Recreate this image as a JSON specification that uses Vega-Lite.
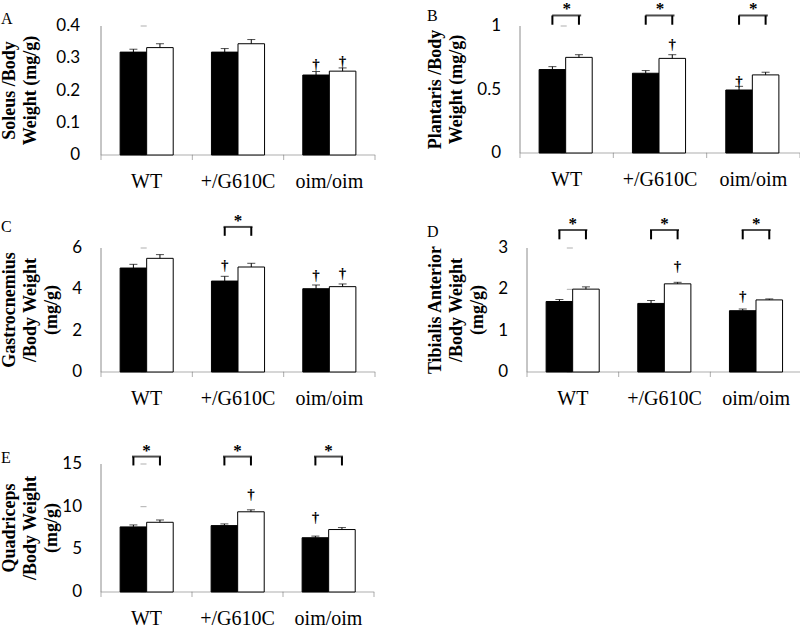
{
  "$schema": "https://vega.github.io/schema/vega-lite/v6.json",
  "background": "white",
  "padding": {"left": 1, "top": 0, "right": 0, "bottom": 0},
  "datasets": {
    "bars": [
      {"panel": "A", "genotype": "WT", "group": "Series1", "value": 0.319, "hi": 0.328},
      {"panel": "A", "genotype": "WT", "group": "Series2", "value": 0.333, "hi": 0.345},
      {"panel": "A", "genotype": "+/G610C", "group": "Series1", "value": 0.319, "hi": 0.330},
      {"panel": "A", "genotype": "+/G610C", "group": "Series2", "value": 0.345, "hi": 0.358},
      {"panel": "A", "genotype": "oim/oim", "group": "Series1", "value": 0.248, "hi": 0.259},
      {"panel": "A", "genotype": "oim/oim", "group": "Series2", "value": 0.260, "hi": 0.270},
      {"panel": "B", "genotype": "WT", "group": "Series1", "value": 0.657, "hi": 0.680},
      {"panel": "B", "genotype": "WT", "group": "Series2", "value": 0.753, "hi": 0.774},
      {"panel": "B", "genotype": "+/G610C", "group": "Series1", "value": 0.628, "hi": 0.649},
      {"panel": "B", "genotype": "+/G610C", "group": "Series2", "value": 0.745, "hi": 0.774},
      {"panel": "B", "genotype": "oim/oim", "group": "Series1", "value": 0.496, "hi": 0.525},
      {"panel": "B", "genotype": "oim/oim", "group": "Series2", "value": 0.615, "hi": 0.636},
      {"panel": "C", "genotype": "WT", "group": "Series1", "value": 5.03, "hi": 5.21},
      {"panel": "C", "genotype": "WT", "group": "Series2", "value": 5.50, "hi": 5.68},
      {"panel": "C", "genotype": "+/G610C", "group": "Series1", "value": 4.40, "hi": 4.63},
      {"panel": "C", "genotype": "+/G610C", "group": "Series2", "value": 5.08, "hi": 5.26},
      {"panel": "C", "genotype": "oim/oim", "group": "Series1", "value": 4.03, "hi": 4.21},
      {"panel": "C", "genotype": "oim/oim", "group": "Series2", "value": 4.13, "hi": 4.26},
      {"panel": "D", "genotype": "WT", "group": "Series1", "value": 1.706, "hi": 1.754},
      {"panel": "D", "genotype": "WT", "group": "Series2", "value": 2.005, "hi": 2.06},
      {"panel": "D", "genotype": "+/G610C", "group": "Series1", "value": 1.659, "hi": 1.73},
      {"panel": "D", "genotype": "+/G610C", "group": "Series2", "value": 2.133, "hi": 2.17},
      {"panel": "D", "genotype": "oim/oim", "group": "Series1", "value": 1.483, "hi": 1.524},
      {"panel": "D", "genotype": "oim/oim", "group": "Series2", "value": 1.744, "hi": 1.768},
      {"panel": "E", "genotype": "WT", "group": "Series1", "value": 7.63, "hi": 7.86},
      {"panel": "E", "genotype": "WT", "group": "Series2", "value": 8.17, "hi": 8.44},
      {"panel": "E", "genotype": "+/G610C", "group": "Series1", "value": 7.78, "hi": 7.98},
      {"panel": "E", "genotype": "+/G610C", "group": "Series2", "value": 9.40, "hi": 9.63},
      {"panel": "E", "genotype": "oim/oim", "group": "Series1", "value": 6.36, "hi": 6.55},
      {"panel": "E", "genotype": "oim/oim", "group": "Series2", "value": 7.32, "hi": 7.55}
    ],
    "yticks": [
      {"panel": "A", "v": 0}, {"panel": "A", "v": 0.1}, {"panel": "A", "v": 0.2}, {"panel": "A", "v": 0.3}, {"panel": "A", "v": 0.4},
      {"panel": "B", "v": 0}, {"panel": "B", "v": 0.5}, {"panel": "B", "v": 1},
      {"panel": "C", "v": 0}, {"panel": "C", "v": 2}, {"panel": "C", "v": 4}, {"panel": "C", "v": 6},
      {"panel": "D", "v": 0}, {"panel": "D", "v": 1}, {"panel": "D", "v": 2}, {"panel": "D", "v": 3},
      {"panel": "E", "v": 0}, {"panel": "E", "v": 5}, {"panel": "E", "v": 10}, {"panel": "E", "v": 15}
    ],
    "brackets": [
      {"panel": "B", "genotype": "WT", "group": "Series1", "top": 1.083, "bottom": 1.01},
      {"panel": "B", "genotype": "WT", "group": "Series2", "top": 1.083, "bottom": 1.01},
      {"panel": "B", "genotype": "+/G610C", "group": "Series1", "top": 1.083, "bottom": 1.01},
      {"panel": "B", "genotype": "+/G610C", "group": "Series2", "top": 1.083, "bottom": 1.01},
      {"panel": "B", "genotype": "oim/oim", "group": "Series1", "top": 1.083, "bottom": 1.01},
      {"panel": "B", "genotype": "oim/oim", "group": "Series2", "top": 1.083, "bottom": 1.01},
      {"panel": "C", "genotype": "+/G610C", "group": "Series1", "top": 7.02, "bottom": 6.59},
      {"panel": "C", "genotype": "+/G610C", "group": "Series2", "top": 7.02, "bottom": 6.59},
      {"panel": "D", "genotype": "WT", "group": "Series1", "top": 3.436, "bottom": 3.21},
      {"panel": "D", "genotype": "WT", "group": "Series2", "top": 3.436, "bottom": 3.21},
      {"panel": "D", "genotype": "+/G610C", "group": "Series1", "top": 3.436, "bottom": 3.21},
      {"panel": "D", "genotype": "+/G610C", "group": "Series2", "top": 3.436, "bottom": 3.21},
      {"panel": "D", "genotype": "oim/oim", "group": "Series1", "top": 3.436, "bottom": 3.21},
      {"panel": "D", "genotype": "oim/oim", "group": "Series2", "top": 3.436, "bottom": 3.21},
      {"panel": "E", "genotype": "WT", "group": "Series1", "top": 15.87, "bottom": 14.83},
      {"panel": "E", "genotype": "WT", "group": "Series2", "top": 15.87, "bottom": 14.83},
      {"panel": "E", "genotype": "+/G610C", "group": "Series1", "top": 15.87, "bottom": 14.83},
      {"panel": "E", "genotype": "+/G610C", "group": "Series2", "top": 15.87, "bottom": 14.83},
      {"panel": "E", "genotype": "oim/oim", "group": "Series1", "top": 15.87, "bottom": 14.83},
      {"panel": "E", "genotype": "oim/oim", "group": "Series2", "top": 15.87, "bottom": 14.83}
    ],
    "daggers": [
      {"panel": "A", "genotype": "oim/oim", "group": "Series1", "y": 0.282},
      {"panel": "A", "genotype": "oim/oim", "group": "Series2", "y": 0.292},
      {"panel": "B", "genotype": "+/G610C", "group": "Series2", "y": 0.856},
      {"panel": "B", "genotype": "oim/oim", "group": "Series1", "y": 0.566},
      {"panel": "C", "genotype": "+/G610C", "group": "Series1", "y": 5.16},
      {"panel": "C", "genotype": "oim/oim", "group": "Series1", "y": 4.67},
      {"panel": "C", "genotype": "oim/oim", "group": "Series2", "y": 4.79},
      {"panel": "D", "genotype": "+/G610C", "group": "Series2", "y": 2.57},
      {"panel": "D", "genotype": "oim/oim", "group": "Series1", "y": 1.85},
      {"panel": "E", "genotype": "+/G610C", "group": "Series2", "y": 11.45},
      {"panel": "E", "genotype": "oim/oim", "group": "Series1", "y": 8.75}
    ]
  },
  "spacing": 19,
  "vconcat": [
    {
      "spacing": 50,
      "hconcat": [
        {
          "width": 274, "height": 129,
          "title": {"text": "A", "offset": -10},
          "layer": [
            {"data": {"name": "bars"}, "transform": [{"filter": "datum.panel === 'A' && datum.group === 'Series1'"}],
             "mark": {"type": "tick", "orient": "horizontal", "size": 91.8, "thickness": 1, "color": "#8c8c8c"},
             "encoding": {
               "x": {"field": "genotype", "type": "nominal", "scale": {"domain": ["WT", "+/G610C", "oim/oim"], "paddingInner": 0, "paddingOuter": 0}, "axis": null},
               "y": {"datum": 0, "type": "quantitative", "scale": {"domain": [0, 0.4], "nice": false}, "axis": null}
             }},
            {"data": {"name": "bars"}, "transform": [{"filter": "datum.panel === 'A' && datum.group === 'Series1'"}],
             "mark": {"type": "tick", "orient": "vertical", "size": 5, "thickness": 1, "color": "#8c8c8c", "yOffset": 2.5},
             "encoding": {
               "x": {"field": "genotype", "type": "nominal", "bandPosition": 0, "axis": null},
               "y": {"datum": 0, "type": "quantitative", "axis": null}
             }},
            {"data": {"name": "bars"}, "transform": [{"filter": "datum.panel === 'A' && datum.group === 'Series1' && datum.genotype === 'oim/oim'"}],
             "mark": {"type": "tick", "orient": "vertical", "size": 5, "thickness": 1, "color": "#8c8c8c", "yOffset": 2.5},
             "encoding": {
               "x": {"field": "genotype", "type": "nominal", "bandPosition": 1, "axis": null},
               "y": {"datum": 0, "type": "quantitative", "axis": null}
             }},
            {"data": {"name": "bars"}, "transform": [{"filter": "datum.panel === 'A' && datum.group === 'Series1'"}],
             "mark": {"type": "text", "font": "Liberation Serif", "fontSize": 20, "baseline": "alphabetic", "align": "center", "dy": 33, "fill": "black"},
             "encoding": {
               "x": {"field": "genotype", "type": "nominal", "axis": null},
               "y": {"datum": 0, "type": "quantitative", "axis": null},
               "text": {"field": "genotype", "type": "nominal"}
             }},
            {"data": {"name": "yticks"}, "transform": [{"filter": "datum.panel === 'A' && datum.v === 0"}],
             "mark": {"type": "rule", "color": "#8c8c8c", "strokeWidth": 1},
             "encoding": {
               "x": {"datum": "WT", "type": "nominal", "bandPosition": 0, "axis": null},
               "y": {"datum": 0, "type": "quantitative", "axis": null},
               "y2": {"datum": 0.4}
             }},
            {"data": {"name": "yticks"}, "transform": [{"filter": "datum.panel === 'A'"}],
             "mark": {"type": "tick", "orient": "horizontal", "size": 6, "thickness": 1, "color": "#8c8c8c", "xOffset": -3},
             "encoding": {
               "x": {"datum": "WT", "type": "nominal", "bandPosition": 0, "axis": null},
               "y": {"field": "v", "type": "quantitative", "axis": null}
             }},
            {"data": {"name": "yticks"}, "transform": [{"filter": "datum.panel === 'A'"}],
             "mark": {"type": "text", "font": "Lato", "fontSize": 17, "align": "right", "baseline": "middle", "dx": -21, "fill": "black"},
             "encoding": {
               "x": {"datum": "WT", "type": "nominal", "bandPosition": 0, "axis": null},
               "y": {"field": "v", "type": "quantitative", "axis": null},
               "text": {"field": "v", "type": "quantitative", "format": "~g"}
             }},
            {"data": {"name": "yticks"}, "transform": [{"filter": "datum.panel === 'A' && datum.v === 0"}],
             "mark": {"type": "text", "text": ["Soleus /Body", "Weight (mg/g)"], "font": "Liberation Serif", "fontWeight": "bold", "fontSize": 18, "lineHeight": 21, "angle": 270, "align": "center", "baseline": "top", "dy": -100, "fill": "black"},
             "encoding": {
               "x": {"datum": "WT", "type": "nominal", "bandPosition": 0, "axis": null},
               "y": {"datum": 0.2, "type": "quantitative", "axis": null}
             }},
            {"data": {"name": "bars"}, "transform": [{"filter": "datum.panel === 'A'"}],
             "mark": {"type": "bar", "stroke": "black", "strokeWidth": 1},
             "encoding": {
               "x": {"field": "genotype", "type": "nominal", "axis": null},
               "xOffset": {"field": "group", "type": "nominal", "scale": {"domain": ["Series1", "Series2"], "paddingInner": 0, "paddingOuter": 0.72}},
               "y": {"field": "value", "type": "quantitative", "axis": null},
               "fill": {"field": "group", "type": "nominal", "scale": {"domain": ["Series1", "Series2"], "range": ["black", "white"]}, "legend": null}
             }},
            {"data": {"name": "bars"}, "transform": [{"filter": "datum.panel === 'A'"}],
             "mark": {"type": "rule", "color": "black", "strokeWidth": 1},
             "encoding": {
               "x": {"field": "genotype", "type": "nominal", "axis": null},
               "xOffset": {"field": "group", "type": "nominal"},
               "y": {"field": "value", "type": "quantitative", "axis": null},
               "y2": {"field": "hi"}
             }},
            {"data": {"name": "bars"}, "transform": [{"filter": "datum.panel === 'A'"}],
             "mark": {"type": "tick", "orient": "horizontal", "color": "black", "size": 8, "thickness": 1},
             "encoding": {
               "x": {"field": "genotype", "type": "nominal", "axis": null},
               "xOffset": {"field": "group", "type": "nominal"},
               "y": {"field": "hi", "type": "quantitative", "axis": null}
             }},
            {"data": {"name": "daggers"}, "transform": [{"filter": "datum.panel === 'A'"}],
             "mark": {"type": "text", "text": "†", "font": "Liberation Serif", "fontSize": 15, "fontWeight": "bold", "baseline": "middle", "fill": "black"},
             "encoding": {
               "x": {"field": "genotype", "type": "nominal", "axis": null},
               "xOffset": {"field": "group", "type": "nominal"},
               "y": {"field": "y", "type": "quantitative", "axis": null}
             }}
          ]
        },
        {
          "width": 280, "height": 127,
          "title": {"text": "B", "offset": -24},
          "layer": [
            {"data": {"name": "bars"}, "transform": [{"filter": "datum.panel === 'B' && datum.group === 'Series1'"}],
             "mark": {"type": "tick", "orient": "horizontal", "size": 93.8, "thickness": 1, "color": "#8c8c8c"},
             "encoding": {
               "x": {"field": "genotype", "type": "nominal", "scale": {"domain": ["WT", "+/G610C", "oim/oim"], "paddingInner": 0, "paddingOuter": 0}, "axis": null},
               "y": {"datum": 0, "type": "quantitative", "scale": {"domain": [0, 1], "nice": false}, "axis": null}
             }},
            {"data": {"name": "bars"}, "transform": [{"filter": "datum.panel === 'B' && datum.group === 'Series1'"}],
             "mark": {"type": "tick", "orient": "vertical", "size": 5, "thickness": 1, "color": "#8c8c8c", "yOffset": 2.5},
             "encoding": {
               "x": {"field": "genotype", "type": "nominal", "bandPosition": 0, "axis": null},
               "y": {"datum": 0, "type": "quantitative", "axis": null}
             }},
            {"data": {"name": "bars"}, "transform": [{"filter": "datum.panel === 'B' && datum.group === 'Series1' && datum.genotype === 'oim/oim'"}],
             "mark": {"type": "tick", "orient": "vertical", "size": 5, "thickness": 1, "color": "#8c8c8c", "yOffset": 2.5},
             "encoding": {
               "x": {"field": "genotype", "type": "nominal", "bandPosition": 1, "axis": null},
               "y": {"datum": 0, "type": "quantitative", "axis": null}
             }},
            {"data": {"name": "bars"}, "transform": [{"filter": "datum.panel === 'B' && datum.group === 'Series1'"}],
             "mark": {"type": "text", "font": "Liberation Serif", "fontSize": 20, "baseline": "alphabetic", "align": "center", "dy": 33, "fill": "black"},
             "encoding": {
               "x": {"field": "genotype", "type": "nominal", "axis": null},
               "y": {"datum": 0, "type": "quantitative", "axis": null},
               "text": {"field": "genotype", "type": "nominal"}
             }},
            {"data": {"name": "yticks"}, "transform": [{"filter": "datum.panel === 'B' && datum.v === 0"}],
             "mark": {"type": "rule", "color": "#8c8c8c", "strokeWidth": 1},
             "encoding": {
               "x": {"datum": "WT", "type": "nominal", "bandPosition": 0, "axis": null},
               "y": {"datum": 0, "type": "quantitative", "axis": null},
               "y2": {"datum": 1}
             }},
            {"data": {"name": "yticks"}, "transform": [{"filter": "datum.panel === 'B'"}],
             "mark": {"type": "tick", "orient": "horizontal", "size": 6, "thickness": 1, "color": "#8c8c8c", "xOffset": -3},
             "encoding": {
               "x": {"datum": "WT", "type": "nominal", "bandPosition": 0, "axis": null},
               "y": {"field": "v", "type": "quantitative", "axis": null}
             }},
            {"data": {"name": "yticks"}, "transform": [{"filter": "datum.panel === 'B'"}],
             "mark": {"type": "text", "font": "Lato", "fontSize": 17, "align": "right", "baseline": "middle", "dx": -19, "fill": "black"},
             "encoding": {
               "x": {"datum": "WT", "type": "nominal", "bandPosition": 0, "axis": null},
               "y": {"field": "v", "type": "quantitative", "axis": null},
               "text": {"field": "v", "type": "quantitative", "format": "~g"}
             }},
            {"data": {"name": "yticks"}, "transform": [{"filter": "datum.panel === 'B' && datum.v === 0"}],
             "mark": {"type": "text", "text": ["Plantaris /Body", "Weight (mg/g)"], "font": "Liberation Serif", "fontWeight": "bold", "fontSize": 18, "lineHeight": 21, "angle": 270, "align": "center", "baseline": "top", "dy": -93, "fill": "black"},
             "encoding": {
               "x": {"datum": "WT", "type": "nominal", "bandPosition": 0, "axis": null},
               "y": {"datum": 0.5, "type": "quantitative", "axis": null}
             }},
            {"data": {"name": "bars"}, "transform": [{"filter": "datum.panel === 'B'"}],
             "mark": {"type": "bar", "stroke": "black", "strokeWidth": 1},
             "encoding": {
               "x": {"field": "genotype", "type": "nominal", "axis": null},
               "xOffset": {"field": "group", "type": "nominal", "scale": {"domain": ["Series1", "Series2"], "paddingInner": 0, "paddingOuter": 0.72}},
               "y": {"field": "value", "type": "quantitative", "axis": null},
               "fill": {"field": "group", "type": "nominal", "scale": {"domain": ["Series1", "Series2"], "range": ["black", "white"]}, "legend": null}
             }},
            {"data": {"name": "bars"}, "transform": [{"filter": "datum.panel === 'B'"}],
             "mark": {"type": "rule", "color": "black", "strokeWidth": 1},
             "encoding": {
               "x": {"field": "genotype", "type": "nominal", "axis": null},
               "xOffset": {"field": "group", "type": "nominal"},
               "y": {"field": "value", "type": "quantitative", "axis": null},
               "y2": {"field": "hi"}
             }},
            {"data": {"name": "bars"}, "transform": [{"filter": "datum.panel === 'B'"}],
             "mark": {"type": "tick", "orient": "horizontal", "color": "black", "size": 8, "thickness": 1},
             "encoding": {
               "x": {"field": "genotype", "type": "nominal", "axis": null},
               "xOffset": {"field": "group", "type": "nominal"},
               "y": {"field": "hi", "type": "quantitative", "axis": null}
             }},
            {"data": {"name": "brackets"}, "transform": [{"filter": "datum.panel === 'B'"}],
             "mark": {"type": "rule", "color": "black", "strokeWidth": 2},
             "encoding": {
               "x": {"field": "genotype", "type": "nominal", "axis": null},
               "xOffset": {"field": "group", "type": "nominal"},
               "y": {"field": "bottom", "type": "quantitative", "axis": null},
               "y2": {"field": "top"}
             }},
            {"data": {"name": "brackets"}, "transform": [{"filter": "datum.panel === 'B' && datum.group === 'Series1'"}],
             "mark": {"type": "tick", "orient": "horizontal", "color": "black", "size": 29, "thickness": 2},
             "encoding": {
               "x": {"field": "genotype", "type": "nominal", "axis": null},
               "y": {"field": "top", "type": "quantitative", "axis": null}
             }},
            {"data": {"name": "brackets"}, "transform": [{"filter": "datum.panel === 'B' && datum.group === 'Series1'"}],
             "mark": {"type": "text", "text": "*", "font": "Liberation Serif", "fontSize": 17, "fontWeight": "bold", "baseline": "alphabetic", "dy": -1, "fill": "black"},
             "encoding": {
               "x": {"field": "genotype", "type": "nominal", "axis": null},
               "y": {"field": "top", "type": "quantitative", "axis": null}
             }},
            {"data": {"name": "daggers"}, "transform": [{"filter": "datum.panel === 'B'"}],
             "mark": {"type": "text", "text": "†", "font": "Liberation Serif", "fontSize": 15, "fontWeight": "bold", "baseline": "middle", "fill": "black"},
             "encoding": {
               "x": {"field": "genotype", "type": "nominal", "axis": null},
               "xOffset": {"field": "group", "type": "nominal"},
               "y": {"field": "y", "type": "quantitative", "axis": null}
             }}
          ]
        }
      ]
    },
    {
      "spacing": 32,
      "vconcat": [
        {
          "spacing": 50,
          "hconcat": [
            {
              "width": 274, "height": 124,
              "title": {"text": "C", "offset": -23},
              "layer": [
                {"data": {"name": "bars"}, "transform": [{"filter": "datum.panel === 'C' && datum.group === 'Series1'"}],
                 "mark": {"type": "tick", "orient": "horizontal", "size": 91.8, "thickness": 1, "color": "#8c8c8c"},
                 "encoding": {
                   "x": {"field": "genotype", "type": "nominal", "scale": {"domain": ["WT", "+/G610C", "oim/oim"], "paddingInner": 0, "paddingOuter": 0}, "axis": null},
                   "y": {"datum": 0, "type": "quantitative", "scale": {"domain": [0, 6], "nice": false}, "axis": null}
                 }},
                {"data": {"name": "bars"}, "transform": [{"filter": "datum.panel === 'C' && datum.group === 'Series1'"}],
                 "mark": {"type": "tick", "orient": "vertical", "size": 5, "thickness": 1, "color": "#8c8c8c", "yOffset": 2.5},
                 "encoding": {
                   "x": {"field": "genotype", "type": "nominal", "bandPosition": 0, "axis": null},
                   "y": {"datum": 0, "type": "quantitative", "axis": null}
                 }},
                {"data": {"name": "bars"}, "transform": [{"filter": "datum.panel === 'C' && datum.group === 'Series1' && datum.genotype === 'oim/oim'"}],
                 "mark": {"type": "tick", "orient": "vertical", "size": 5, "thickness": 1, "color": "#8c8c8c", "yOffset": 2.5},
                 "encoding": {
                   "x": {"field": "genotype", "type": "nominal", "bandPosition": 1, "axis": null},
                   "y": {"datum": 0, "type": "quantitative", "axis": null}
                 }},
                {"data": {"name": "bars"}, "transform": [{"filter": "datum.panel === 'C' && datum.group === 'Series1'"}],
                 "mark": {"type": "text", "font": "Liberation Serif", "fontSize": 20, "baseline": "alphabetic", "align": "center", "dy": 33, "fill": "black"},
                 "encoding": {
                   "x": {"field": "genotype", "type": "nominal", "axis": null},
                   "y": {"datum": 0, "type": "quantitative", "axis": null},
                   "text": {"field": "genotype", "type": "nominal"}
                 }},
                {"data": {"name": "yticks"}, "transform": [{"filter": "datum.panel === 'C' && datum.v === 0"}],
                 "mark": {"type": "rule", "color": "#8c8c8c", "strokeWidth": 1},
                 "encoding": {
                   "x": {"datum": "WT", "type": "nominal", "bandPosition": 0, "axis": null},
                   "y": {"datum": 0, "type": "quantitative", "axis": null},
                   "y2": {"datum": 6}
                 }},
                {"data": {"name": "yticks"}, "transform": [{"filter": "datum.panel === 'C'"}],
                 "mark": {"type": "tick", "orient": "horizontal", "size": 6, "thickness": 1, "color": "#8c8c8c", "xOffset": -3},
                 "encoding": {
                   "x": {"datum": "WT", "type": "nominal", "bandPosition": 0, "axis": null},
                   "y": {"field": "v", "type": "quantitative", "axis": null}
                 }},
                {"data": {"name": "yticks"}, "transform": [{"filter": "datum.panel === 'C'"}],
                 "mark": {"type": "text", "font": "Lato", "fontSize": 17, "align": "right", "baseline": "middle", "dx": -19, "fill": "black"},
                 "encoding": {
                   "x": {"datum": "WT", "type": "nominal", "bandPosition": 0, "axis": null},
                   "y": {"field": "v", "type": "quantitative", "axis": null},
                   "text": {"field": "v", "type": "quantitative", "format": "~g"}
                 }},
                {"data": {"name": "yticks"}, "transform": [{"filter": "datum.panel === 'C' && datum.v === 0"}],
                 "mark": {"type": "text", "text": ["Gastrocnemius", "/Body Weight", "(mg/g)"], "font": "Liberation Serif", "fontWeight": "bold", "fontSize": 18, "lineHeight": 21, "angle": 270, "align": "center", "baseline": "top", "dy": -100, "fill": "black"},
                 "encoding": {
                   "x": {"datum": "WT", "type": "nominal", "bandPosition": 0, "axis": null},
                   "y": {"datum": 3, "type": "quantitative", "axis": null}
                 }},
                {"data": {"name": "bars"}, "transform": [{"filter": "datum.panel === 'C'"}],
                 "mark": {"type": "bar", "stroke": "black", "strokeWidth": 1},
                 "encoding": {
                   "x": {"field": "genotype", "type": "nominal", "axis": null},
                   "xOffset": {"field": "group", "type": "nominal", "scale": {"domain": ["Series1", "Series2"], "paddingInner": 0, "paddingOuter": 0.72}},
                   "y": {"field": "value", "type": "quantitative", "axis": null},
                   "fill": {"field": "group", "type": "nominal", "scale": {"domain": ["Series1", "Series2"], "range": ["black", "white"]}, "legend": null}
                 }},
                {"data": {"name": "bars"}, "transform": [{"filter": "datum.panel === 'C'"}],
                 "mark": {"type": "rule", "color": "black", "strokeWidth": 1},
                 "encoding": {
                   "x": {"field": "genotype", "type": "nominal", "axis": null},
                   "xOffset": {"field": "group", "type": "nominal"},
                   "y": {"field": "value", "type": "quantitative", "axis": null},
                   "y2": {"field": "hi"}
                 }},
                {"data": {"name": "bars"}, "transform": [{"filter": "datum.panel === 'C'"}],
                 "mark": {"type": "tick", "orient": "horizontal", "color": "black", "size": 8, "thickness": 1},
                 "encoding": {
                   "x": {"field": "genotype", "type": "nominal", "axis": null},
                   "xOffset": {"field": "group", "type": "nominal"},
                   "y": {"field": "hi", "type": "quantitative", "axis": null}
                 }},
                {"data": {"name": "brackets"}, "transform": [{"filter": "datum.panel === 'C'"}],
                 "mark": {"type": "rule", "color": "black", "strokeWidth": 2},
                 "encoding": {
                   "x": {"field": "genotype", "type": "nominal", "axis": null},
                   "xOffset": {"field": "group", "type": "nominal"},
                   "y": {"field": "bottom", "type": "quantitative", "axis": null},
                   "y2": {"field": "top"}
                 }},
                {"data": {"name": "brackets"}, "transform": [{"filter": "datum.panel === 'C' && datum.group === 'Series1'"}],
                 "mark": {"type": "tick", "orient": "horizontal", "color": "black", "size": 29, "thickness": 2},
                 "encoding": {
                   "x": {"field": "genotype", "type": "nominal", "axis": null},
                   "y": {"field": "top", "type": "quantitative", "axis": null}
                 }},
                {"data": {"name": "brackets"}, "transform": [{"filter": "datum.panel === 'C' && datum.group === 'Series1'"}],
                 "mark": {"type": "text", "text": "*", "font": "Liberation Serif", "fontSize": 17, "fontWeight": "bold", "baseline": "alphabetic", "dy": -1, "fill": "black"},
                 "encoding": {
                   "x": {"field": "genotype", "type": "nominal", "axis": null},
                   "y": {"field": "top", "type": "quantitative", "axis": null}
                 }},
                {"data": {"name": "daggers"}, "transform": [{"filter": "datum.panel === 'C'"}],
                 "mark": {"type": "text", "text": "†", "font": "Liberation Serif", "fontSize": 15, "fontWeight": "bold", "baseline": "middle", "fill": "black"},
                 "encoding": {
                   "x": {"field": "genotype", "type": "nominal", "axis": null},
                   "xOffset": {"field": "group", "type": "nominal"},
                   "y": {"field": "y", "type": "quantitative", "axis": null}
                 }}
              ]
            },
            {
              "width": 275, "height": 124,
              "title": {"text": "D", "offset": -25},
              "layer": [
                {"data": {"name": "bars"}, "transform": [{"filter": "datum.panel === 'D' && datum.group === 'Series1'"}],
                 "mark": {"type": "tick", "orient": "horizontal", "size": 92.2, "thickness": 1, "color": "#8c8c8c"},
                 "encoding": {
                   "x": {"field": "genotype", "type": "nominal", "scale": {"domain": ["WT", "+/G610C", "oim/oim"], "paddingInner": 0, "paddingOuter": 0}, "axis": null},
                   "y": {"datum": 0, "type": "quantitative", "scale": {"domain": [0, 3], "nice": false}, "axis": null}
                 }},
                {"data": {"name": "bars"}, "transform": [{"filter": "datum.panel === 'D' && datum.group === 'Series1'"}],
                 "mark": {"type": "tick", "orient": "vertical", "size": 5, "thickness": 1, "color": "#8c8c8c", "yOffset": 2.5},
                 "encoding": {
                   "x": {"field": "genotype", "type": "nominal", "bandPosition": 0, "axis": null},
                   "y": {"datum": 0, "type": "quantitative", "axis": null}
                 }},
                {"data": {"name": "bars"}, "transform": [{"filter": "datum.panel === 'D' && datum.group === 'Series1' && datum.genotype === 'oim/oim'"}],
                 "mark": {"type": "tick", "orient": "vertical", "size": 5, "thickness": 1, "color": "#8c8c8c", "yOffset": 2.5},
                 "encoding": {
                   "x": {"field": "genotype", "type": "nominal", "bandPosition": 1, "axis": null},
                   "y": {"datum": 0, "type": "quantitative", "axis": null}
                 }},
                {"data": {"name": "bars"}, "transform": [{"filter": "datum.panel === 'D' && datum.group === 'Series1'"}],
                 "mark": {"type": "text", "font": "Liberation Serif", "fontSize": 20, "baseline": "alphabetic", "align": "center", "dy": 33, "fill": "black"},
                 "encoding": {
                   "x": {"field": "genotype", "type": "nominal", "axis": null},
                   "y": {"datum": 0, "type": "quantitative", "axis": null},
                   "text": {"field": "genotype", "type": "nominal"}
                 }},
                {"data": {"name": "yticks"}, "transform": [{"filter": "datum.panel === 'D' && datum.v === 0"}],
                 "mark": {"type": "rule", "color": "#8c8c8c", "strokeWidth": 1},
                 "encoding": {
                   "x": {"datum": "WT", "type": "nominal", "bandPosition": 0, "axis": null},
                   "y": {"datum": 0, "type": "quantitative", "axis": null},
                   "y2": {"datum": 3}
                 }},
                {"data": {"name": "yticks"}, "transform": [{"filter": "datum.panel === 'D'"}],
                 "mark": {"type": "tick", "orient": "horizontal", "size": 6, "thickness": 1, "color": "#8c8c8c", "xOffset": -3},
                 "encoding": {
                   "x": {"datum": "WT", "type": "nominal", "bandPosition": 0, "axis": null},
                   "y": {"field": "v", "type": "quantitative", "axis": null}
                 }},
                {"data": {"name": "yticks"}, "transform": [{"filter": "datum.panel === 'D'"}],
                 "mark": {"type": "text", "font": "Lato", "fontSize": 17, "align": "right", "baseline": "middle", "dx": -19, "fill": "black"},
                 "encoding": {
                   "x": {"datum": "WT", "type": "nominal", "bandPosition": 0, "axis": null},
                   "y": {"field": "v", "type": "quantitative", "axis": null},
                   "text": {"field": "v", "type": "quantitative", "format": "~g"}
                 }},
                {"data": {"name": "yticks"}, "transform": [{"filter": "datum.panel === 'D' && datum.v === 0"}],
                 "mark": {"type": "text", "text": ["Tibialis Anterior", "/Body Weight", "(mg/g)"], "font": "Liberation Serif", "fontWeight": "bold", "fontSize": 18, "lineHeight": 21, "angle": 270, "align": "center", "baseline": "top", "dy": -100, "fill": "black"},
                 "encoding": {
                   "x": {"datum": "WT", "type": "nominal", "bandPosition": 0, "axis": null},
                   "y": {"datum": 1.5, "type": "quantitative", "axis": null}
                 }},
                {"data": {"name": "bars"}, "transform": [{"filter": "datum.panel === 'D'"}],
                 "mark": {"type": "bar", "stroke": "black", "strokeWidth": 1},
                 "encoding": {
                   "x": {"field": "genotype", "type": "nominal", "axis": null},
                   "xOffset": {"field": "group", "type": "nominal", "scale": {"domain": ["Series1", "Series2"], "paddingInner": 0, "paddingOuter": 0.72}},
                   "y": {"field": "value", "type": "quantitative", "axis": null},
                   "fill": {"field": "group", "type": "nominal", "scale": {"domain": ["Series1", "Series2"], "range": ["black", "white"]}, "legend": null}
                 }},
                {"data": {"name": "bars"}, "transform": [{"filter": "datum.panel === 'D'"}],
                 "mark": {"type": "rule", "color": "black", "strokeWidth": 1},
                 "encoding": {
                   "x": {"field": "genotype", "type": "nominal", "axis": null},
                   "xOffset": {"field": "group", "type": "nominal"},
                   "y": {"field": "value", "type": "quantitative", "axis": null},
                   "y2": {"field": "hi"}
                 }},
                {"data": {"name": "bars"}, "transform": [{"filter": "datum.panel === 'D'"}],
                 "mark": {"type": "tick", "orient": "horizontal", "color": "black", "size": 8, "thickness": 1},
                 "encoding": {
                   "x": {"field": "genotype", "type": "nominal", "axis": null},
                   "xOffset": {"field": "group", "type": "nominal"},
                   "y": {"field": "hi", "type": "quantitative", "axis": null}
                 }},
                {"data": {"name": "brackets"}, "transform": [{"filter": "datum.panel === 'D'"}],
                 "mark": {"type": "rule", "color": "black", "strokeWidth": 2},
                 "encoding": {
                   "x": {"field": "genotype", "type": "nominal", "axis": null},
                   "xOffset": {"field": "group", "type": "nominal"},
                   "y": {"field": "bottom", "type": "quantitative", "axis": null},
                   "y2": {"field": "top"}
                 }},
                {"data": {"name": "brackets"}, "transform": [{"filter": "datum.panel === 'D' && datum.group === 'Series1'"}],
                 "mark": {"type": "tick", "orient": "horizontal", "color": "black", "size": 29, "thickness": 2},
                 "encoding": {
                   "x": {"field": "genotype", "type": "nominal", "axis": null},
                   "y": {"field": "top", "type": "quantitative", "axis": null}
                 }},
                {"data": {"name": "brackets"}, "transform": [{"filter": "datum.panel === 'D' && datum.group === 'Series1'"}],
                 "mark": {"type": "text", "text": "*", "font": "Liberation Serif", "fontSize": 17, "fontWeight": "bold", "baseline": "alphabetic", "dy": -1, "fill": "black"},
                 "encoding": {
                   "x": {"field": "genotype", "type": "nominal", "axis": null},
                   "y": {"field": "top", "type": "quantitative", "axis": null}
                 }},
                {"data": {"name": "daggers"}, "transform": [{"filter": "datum.panel === 'D'"}],
                 "mark": {"type": "text", "text": "†", "font": "Liberation Serif", "fontSize": 15, "fontWeight": "bold", "baseline": "middle", "fill": "black"},
                 "encoding": {
                   "x": {"field": "genotype", "type": "nominal", "axis": null},
                   "xOffset": {"field": "group", "type": "nominal"},
                   "y": {"field": "y", "type": "quantitative", "axis": null}
                 }}
              ]
            }
          ]
        },
        {
          "width": 273, "height": 128,
          "title": {"text": "E", "offset": -24},
          "layer": [
            {"data": {"name": "bars"}, "transform": [{"filter": "datum.panel === 'E' && datum.group === 'Series1'"}],
             "mark": {"type": "tick", "orient": "horizontal", "size": 91.5, "thickness": 1, "color": "#8c8c8c"},
             "encoding": {
               "x": {"field": "genotype", "type": "nominal", "scale": {"domain": ["WT", "+/G610C", "oim/oim"], "paddingInner": 0, "paddingOuter": 0}, "axis": null},
               "y": {"datum": 0, "type": "quantitative", "scale": {"domain": [0, 15], "nice": false}, "axis": null}
             }},
            {"data": {"name": "bars"}, "transform": [{"filter": "datum.panel === 'E' && datum.group === 'Series1'"}],
             "mark": {"type": "tick", "orient": "vertical", "size": 5, "thickness": 1, "color": "#8c8c8c", "yOffset": 2.5},
             "encoding": {
               "x": {"field": "genotype", "type": "nominal", "bandPosition": 0, "axis": null},
               "y": {"datum": 0, "type": "quantitative", "axis": null}
             }},
            {"data": {"name": "bars"}, "transform": [{"filter": "datum.panel === 'E' && datum.group === 'Series1' && datum.genotype === 'oim/oim'"}],
             "mark": {"type": "tick", "orient": "vertical", "size": 5, "thickness": 1, "color": "#8c8c8c", "yOffset": 2.5},
             "encoding": {
               "x": {"field": "genotype", "type": "nominal", "bandPosition": 1, "axis": null},
               "y": {"datum": 0, "type": "quantitative", "axis": null}
             }},
            {"data": {"name": "bars"}, "transform": [{"filter": "datum.panel === 'E' && datum.group === 'Series1'"}],
             "mark": {"type": "text", "font": "Liberation Serif", "fontSize": 20, "baseline": "alphabetic", "align": "center", "dy": 33, "fill": "black"},
             "encoding": {
               "x": {"field": "genotype", "type": "nominal", "axis": null},
               "y": {"datum": 0, "type": "quantitative", "axis": null},
               "text": {"field": "genotype", "type": "nominal"}
             }},
            {"data": {"name": "yticks"}, "transform": [{"filter": "datum.panel === 'E' && datum.v === 0"}],
             "mark": {"type": "rule", "color": "#8c8c8c", "strokeWidth": 1},
             "encoding": {
               "x": {"datum": "WT", "type": "nominal", "bandPosition": 0, "axis": null},
               "y": {"datum": 0, "type": "quantitative", "axis": null},
               "y2": {"datum": 15}
             }},
            {"data": {"name": "yticks"}, "transform": [{"filter": "datum.panel === 'E'"}],
             "mark": {"type": "tick", "orient": "horizontal", "size": 6, "thickness": 1, "color": "#8c8c8c", "xOffset": -3},
             "encoding": {
               "x": {"datum": "WT", "type": "nominal", "bandPosition": 0, "axis": null},
               "y": {"field": "v", "type": "quantitative", "axis": null}
             }},
            {"data": {"name": "yticks"}, "transform": [{"filter": "datum.panel === 'E'"}],
             "mark": {"type": "text", "font": "Lato", "fontSize": 17, "align": "right", "baseline": "middle", "dx": -19, "fill": "black"},
             "encoding": {
               "x": {"datum": "WT", "type": "nominal", "bandPosition": 0, "axis": null},
               "y": {"field": "v", "type": "quantitative", "axis": null},
               "text": {"field": "v", "type": "quantitative", "format": "~g"}
             }},
            {"data": {"name": "yticks"}, "transform": [{"filter": "datum.panel === 'E' && datum.v === 0"}],
             "mark": {"type": "text", "text": ["Quadriceps", "/Body Weight", "(mg/g)"], "font": "Liberation Serif", "fontWeight": "bold", "fontSize": 18, "lineHeight": 21, "angle": 270, "align": "center", "baseline": "top", "dy": -100, "fill": "black"},
             "encoding": {
               "x": {"datum": "WT", "type": "nominal", "bandPosition": 0, "axis": null},
               "y": {"datum": 7.5, "type": "quantitative", "axis": null}
             }},
            {"data": {"name": "bars"}, "transform": [{"filter": "datum.panel === 'E'"}],
             "mark": {"type": "bar", "stroke": "black", "strokeWidth": 1},
             "encoding": {
               "x": {"field": "genotype", "type": "nominal", "axis": null},
               "xOffset": {"field": "group", "type": "nominal", "scale": {"domain": ["Series1", "Series2"], "paddingInner": 0, "paddingOuter": 0.72}},
               "y": {"field": "value", "type": "quantitative", "axis": null},
               "fill": {"field": "group", "type": "nominal", "scale": {"domain": ["Series1", "Series2"], "range": ["black", "white"]}, "legend": null}
             }},
            {"data": {"name": "bars"}, "transform": [{"filter": "datum.panel === 'E'"}],
             "mark": {"type": "rule", "color": "black", "strokeWidth": 1},
             "encoding": {
               "x": {"field": "genotype", "type": "nominal", "axis": null},
               "xOffset": {"field": "group", "type": "nominal"},
               "y": {"field": "value", "type": "quantitative", "axis": null},
               "y2": {"field": "hi"}
             }},
            {"data": {"name": "bars"}, "transform": [{"filter": "datum.panel === 'E'"}],
             "mark": {"type": "tick", "orient": "horizontal", "color": "black", "size": 8, "thickness": 1},
             "encoding": {
               "x": {"field": "genotype", "type": "nominal", "axis": null},
               "xOffset": {"field": "group", "type": "nominal"},
               "y": {"field": "hi", "type": "quantitative", "axis": null}
             }},
            {"data": {"name": "brackets"}, "transform": [{"filter": "datum.panel === 'E'"}],
             "mark": {"type": "rule", "color": "black", "strokeWidth": 2},
             "encoding": {
               "x": {"field": "genotype", "type": "nominal", "axis": null},
               "xOffset": {"field": "group", "type": "nominal"},
               "y": {"field": "bottom", "type": "quantitative", "axis": null},
               "y2": {"field": "top"}
             }},
            {"data": {"name": "brackets"}, "transform": [{"filter": "datum.panel === 'E' && datum.group === 'Series1'"}],
             "mark": {"type": "tick", "orient": "horizontal", "color": "black", "size": 29, "thickness": 2},
             "encoding": {
               "x": {"field": "genotype", "type": "nominal", "axis": null},
               "y": {"field": "top", "type": "quantitative", "axis": null}
             }},
            {"data": {"name": "brackets"}, "transform": [{"filter": "datum.panel === 'E' && datum.group === 'Series1'"}],
             "mark": {"type": "text", "text": "*", "font": "Liberation Serif", "fontSize": 17, "fontWeight": "bold", "baseline": "alphabetic", "dy": -1, "fill": "black"},
             "encoding": {
               "x": {"field": "genotype", "type": "nominal", "axis": null},
               "y": {"field": "top", "type": "quantitative", "axis": null}
             }},
            {"data": {"name": "daggers"}, "transform": [{"filter": "datum.panel === 'E'"}],
             "mark": {"type": "text", "text": "†", "font": "Liberation Serif", "fontSize": 15, "fontWeight": "bold", "baseline": "middle", "fill": "black"},
             "encoding": {
               "x": {"field": "genotype", "type": "nominal", "axis": null},
               "xOffset": {"field": "group", "type": "nominal"},
               "y": {"field": "y", "type": "quantitative", "axis": null}
             }}
          ]
        }
      ]
    }
  ],
  "config": {
    "view": {"stroke": null},
    "title": {"font": "Liberation Serif", "fontSize": 16, "fontWeight": "normal", "color": "black", "anchor": "start", "frame": "bounds"}
  }
}
